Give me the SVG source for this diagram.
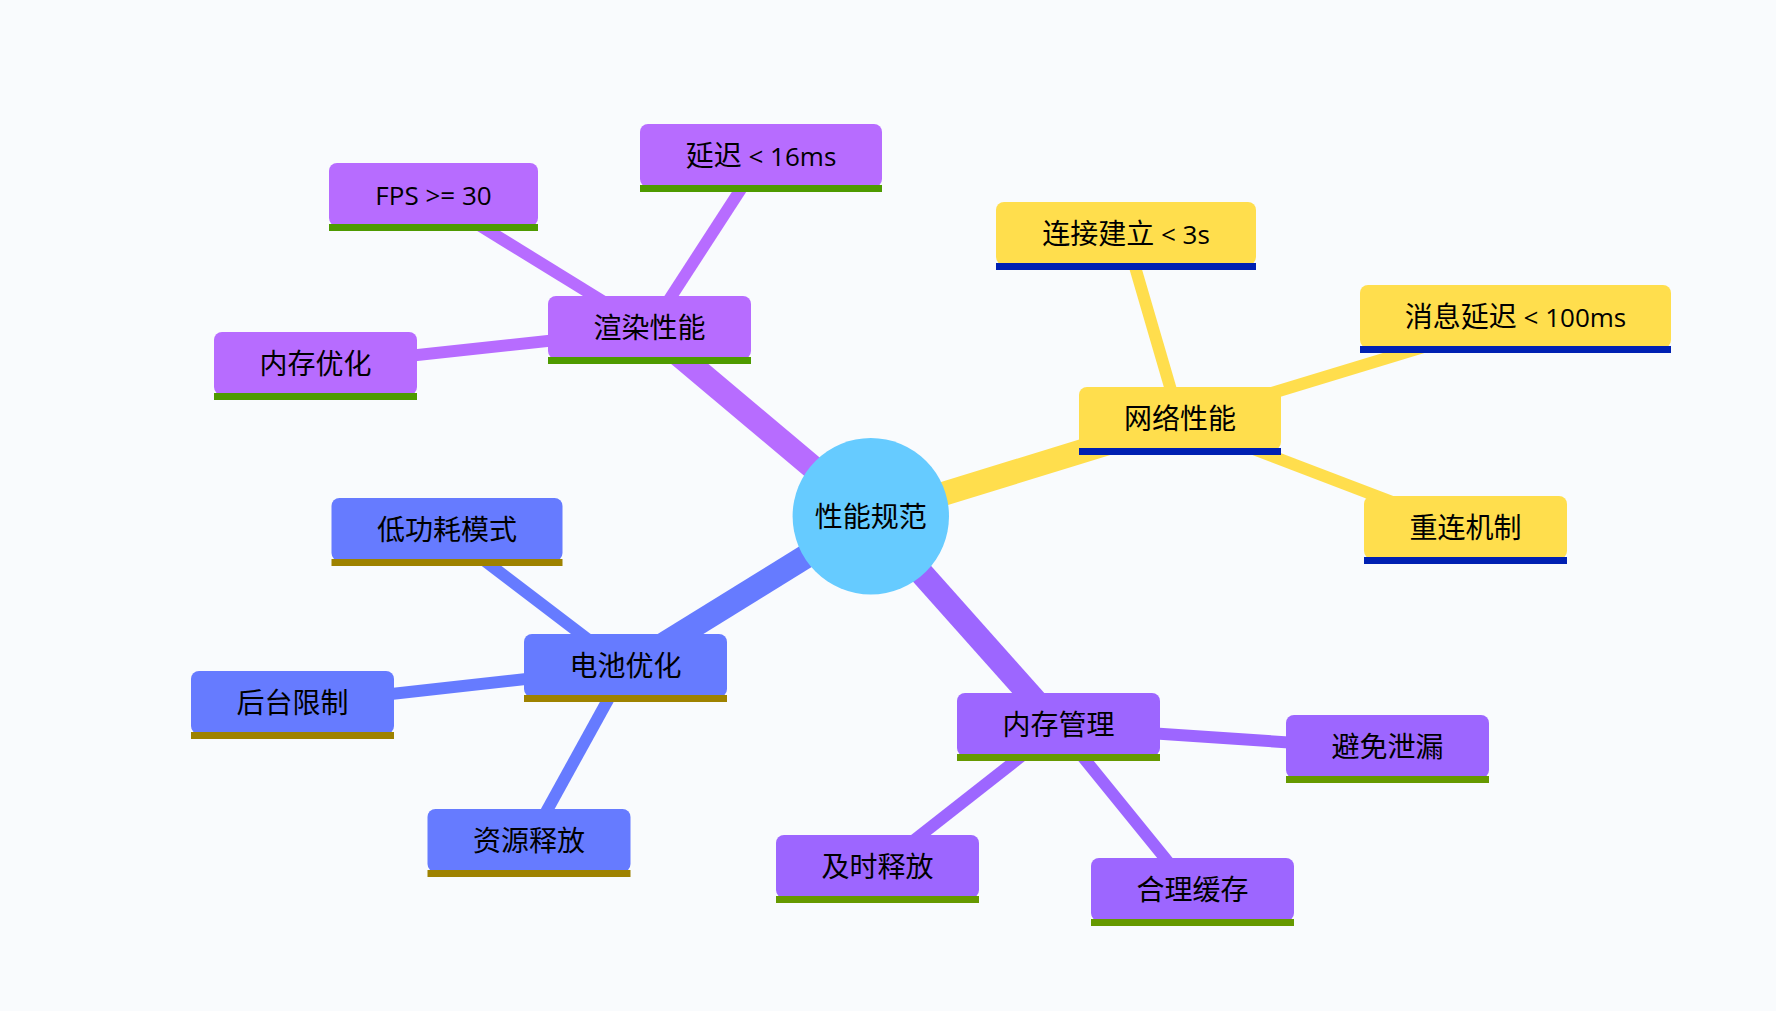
<svg xmlns="http://www.w3.org/2000/svg" width="1776" height="1011" viewBox="0 0 1776 1011">
<style>
text{font-family:"Noto Sans CJK SC","Noto Sans",sans-serif;font-size:28px;fill:#000;text-anchor:middle}
.l{font-family:"Open Sans","Noto Sans",sans-serif;font-size:26px}
.main{stroke-width:24;fill:none}
.sub{stroke-width:12;fill:none}
.p1{fill:#B76CFF}.p1s{stroke:#B76CFF}.p1b{fill:#4E9A00}
.y{fill:#FFDE4D}.ys{stroke:#FFDE4D}.yb{fill:#0020B2}
.b{fill:#667BFF}.bs{stroke:#667BFF}.bb{fill:#9E8200}
.p2{fill:#9D66FF}.p2s{stroke:#9D66FF}.p2b{fill:#669900}
</style>
<rect width="1776" height="1011" fill="#F9FBFD"/>
<g id="connectors">
<line class="main p1s" x1="870.8" y1="516.2" x2="649.5" y2="330"/>
<line class="main ys" x1="870.8" y1="516.2" x2="1180" y2="421"/>
<line class="main bs" x1="870.8" y1="516.2" x2="625.5" y2="668"/>
<line class="main p2s" x1="870.8" y1="516.2" x2="1058.5" y2="727"/>
<line class="sub p1s" x1="649.5" y1="330" x2="433.5" y2="197"/>
<line class="sub p1s" x1="649.5" y1="330" x2="761" y2="158"/>
<line class="sub p1s" x1="649.5" y1="330" x2="315.5" y2="366"/>
<line class="sub ys" x1="1180" y1="421" x2="1126" y2="236"/>
<line class="sub ys" x1="1180" y1="421" x2="1515.5" y2="319"/>
<line class="sub ys" x1="1180" y1="421" x2="1465.5" y2="530"/>
<line class="sub bs" x1="625.5" y1="668" x2="447" y2="532"/>
<line class="sub bs" x1="625.5" y1="668" x2="292.5" y2="705"/>
<line class="sub bs" x1="625.5" y1="668" x2="529" y2="843"/>
<line class="sub p2s" x1="1058.5" y1="727" x2="1387.5" y2="749"/>
<line class="sub p2s" x1="1058.5" y1="727" x2="877.5" y2="869"/>
<line class="sub p2s" x1="1058.5" y1="727" x2="1192.5" y2="892"/>
</g>
<g id="n-render" transform="translate(548,296)"><rect class="p1" width="203" height="63" rx="8"/><rect class="p1b" y="61" width="203" height="7"/><text x="101.5" y="42">渲染性能</text></g>
<g id="n-fps" transform="translate(329,163)"><rect class="p1" width="209" height="63" rx="8"/><rect class="p1b" y="61" width="209" height="7"/><text x="104.5" y="41.5" class="l">FPS &gt;= 30</text></g>
<g id="n-delay" transform="translate(640,124)"><rect class="p1" width="242" height="63" rx="8"/><rect class="p1b" y="61" width="242" height="7"/><text x="121" y="42">延迟<tspan class="l"> &lt; 16ms</tspan></text></g>
<g id="n-memopt" transform="translate(214,332)"><rect class="p1" width="203" height="63" rx="8"/><rect class="p1b" y="61" width="203" height="7"/><text x="101.5" y="42">内存优化</text></g>
<g id="n-net" transform="translate(1079,387)"><rect class="y" width="202" height="63" rx="8"/><rect class="yb" y="61" width="202" height="7"/><text x="101" y="42">网络性能</text></g>
<g id="n-conn" transform="translate(996,202)"><rect class="y" width="260" height="63" rx="8"/><rect class="yb" y="61" width="260" height="7"/><text x="130" y="42">连接建立<tspan class="l"> &lt; 3s</tspan></text></g>
<g id="n-msg" transform="translate(1360,285)"><rect class="y" width="311" height="63" rx="8"/><rect class="yb" y="61" width="311" height="7"/><text x="155.5" y="42">消息延迟<tspan class="l"> &lt; 100ms</tspan></text></g>
<g id="n-reconn" transform="translate(1364,496)"><rect class="y" width="203" height="63" rx="8"/><rect class="yb" y="61" width="203" height="7"/><text x="101.5" y="42">重连机制</text></g>
<g id="n-battery" transform="translate(524,634)"><rect class="b" width="203" height="63" rx="8"/><rect class="bb" y="61" width="203" height="7"/><text x="101.5" y="42">电池优化</text></g>
<g id="n-lowpower" transform="translate(331.5,498)"><rect class="b" width="231" height="63" rx="8"/><rect class="bb" y="61" width="231" height="7"/><text x="115.5" y="42">低功耗模式</text></g>
<g id="n-bg" transform="translate(191,671)"><rect class="b" width="203" height="63" rx="8"/><rect class="bb" y="61" width="203" height="7"/><text x="101.5" y="42">后台限制</text></g>
<g id="n-res" transform="translate(427.5,809)"><rect class="b" width="203" height="63" rx="8"/><rect class="bb" y="61" width="203" height="7"/><text x="101.5" y="42">资源释放</text></g>
<g id="n-mem" transform="translate(957,693)"><rect class="p2" width="203" height="63" rx="8"/><rect class="p2b" y="61" width="203" height="7"/><text x="101.5" y="42">内存管理</text></g>
<g id="n-leak" transform="translate(1286,715)"><rect class="p2" width="203" height="63" rx="8"/><rect class="p2b" y="61" width="203" height="7"/><text x="101.5" y="42">避免泄漏</text></g>
<g id="n-release" transform="translate(776,835)"><rect class="p2" width="203" height="63" rx="8"/><rect class="p2b" y="61" width="203" height="7"/><text x="101.5" y="42">及时释放</text></g>
<g id="n-cache" transform="translate(1091,858)"><rect class="p2" width="203" height="63" rx="8"/><rect class="p2b" y="61" width="203" height="7"/><text x="101.5" y="42">合理缓存</text></g>
<g id="n-root"><circle cx="870.8" cy="516.2" r="78.2" fill="#66CBFF"/><text x="870.8" y="526.5">性能规范</text></g>
</svg>
